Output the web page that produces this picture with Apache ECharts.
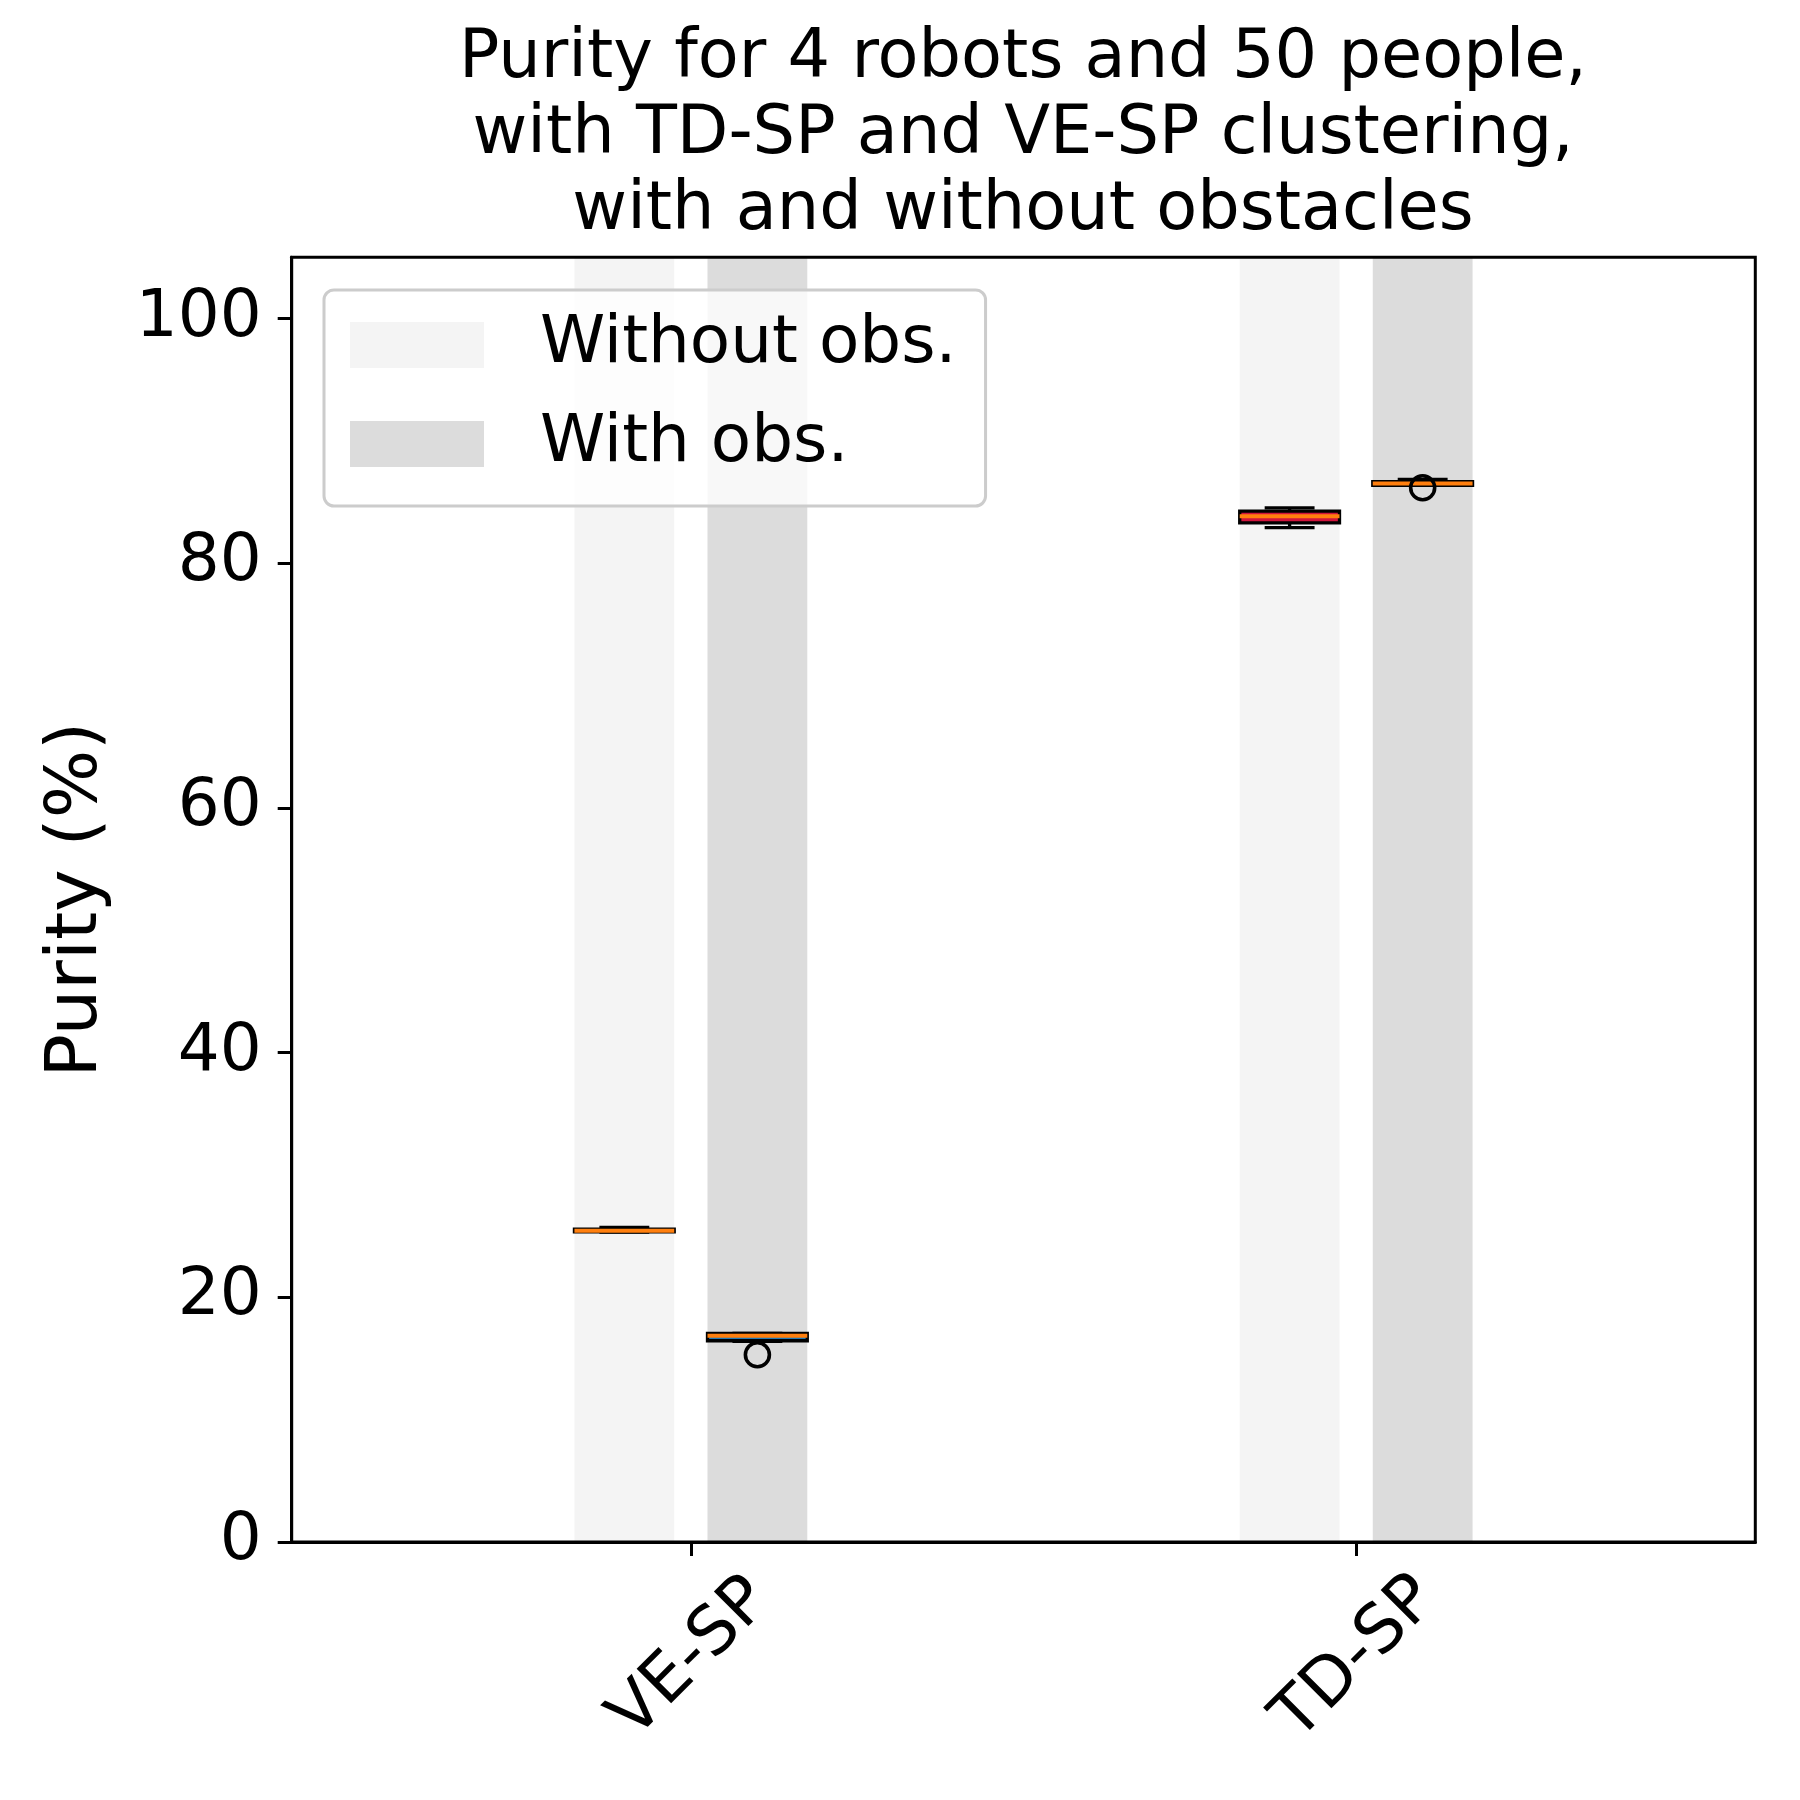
<!DOCTYPE html>
<html>
<head>
<meta charset="utf-8">
<script src="https://cdn.jsdelivr.net/npm/echarts@6/dist/echarts.min.js"></script>
<style>
html,body{margin:0;padding:0;background:#fff;}
#chart{width:1800px;height:1800px;}
</style>
</head>
<body>
<div id="chart"></div>
<script>
var categories = ['VE-SP', 'TD-SP'];
var groupNames = ['Without obs.', 'With obs.'];
// [min, q1, median, q3, max] for each category
var withoutStats = [[25.33, 25.35, 25.44, 25.56, 25.72], [82.91, 83.30, 83.84, 84.25, 84.52]];
var withStats = [[16.40, 16.45, 16.85, 17.05, 17.05], [86.37, 86.37, 86.52, 86.67, 86.84]];
var withoutOutliers = [[], []];
var withOutliers = [[15.31], [86.16]];
var yTicks = [0, 20, 40, 60, 80, 100];

var BOX_W = 0.15;
var OFFSETS = [-0.1, 0.1];
var BAND_COLORS = ['#f4f4f4', '#dcdcdc'];
var FILLS = [['#1f77b4', '#d0143c'], ['#1f77b4', '#ff7f0e']];
var Y_MAX = 105;
var FONT = 'DejaVu Sans';

function posOf(cat, g) { return cat + 1 + OFFSETS[g]; }

function bandItem(params, api) {
  var x = api.value(0);
  var p0 = api.coord([x - BOX_W / 2, Y_MAX]);
  var p1 = api.coord([x + BOX_W / 2, 0]);
  return {
    type: 'rect',
    shape: { x: p0[0], y: p0[1], width: p1[0] - p0[0], height: p1[1] - p0[1] },
    style: { fill: api.visual('color') }
  };
}

function makeBoxItem(fills) {
  return function (params, api) {
    var x = api.value(0), lo = api.value(1), q1 = api.value(2), med = api.value(3), q3 = api.value(4), hi = api.value(5);
    var h = BOX_W / 2, c = BOX_W / 4;
    var tl = api.coord([x - h, q3]), br = api.coord([x + h, q1]);
    var blk = { stroke: '#000', lineWidth: 3.3 };
    function seg(a, b, style) {
      var p = api.coord(a), q = api.coord(b);
      return { type: 'line', shape: { x1: p[0], y1: p[1], x2: q[0], y2: q[1] }, style: style };
    }
    return {
      type: 'group',
      children: [
        { type: 'rect', shape: { x: tl[0], y: tl[1], width: br[0] - tl[0], height: br[1] - tl[1] },
          style: { fill: fills[params.dataIndex], stroke: '#000', lineWidth: 3.3 } },
        seg([x, q3], [x, hi], blk),
        seg([x, lo], [x, q1], blk),
        seg([x - c, hi], [x + c, hi], blk),
        seg([x - c, lo], [x + c, lo], blk),
        seg([x - h, med], [x + h, med], { stroke: '#ff7f0e', lineWidth: 4 })
      ]
    };
  };
}

var allStats = [withoutStats, withStats];
var allOutliers = [withoutOutliers, withOutliers];
var series = [];

groupNames.forEach(function (name, g) {
  series.push({
    name: name,
    type: 'custom',
    renderItem: bandItem,
    itemStyle: { color: BAND_COLORS[g] },
    data: categories.map(function (c, i) { return [posOf(i, g)]; }),
    z: 1,
    silent: true
  });
});

groupNames.forEach(function (name, g) {
  series.push({
    name: name + ' box',
    type: 'custom',
    renderItem: makeBoxItem(FILLS[g]),
    data: allStats[g].map(function (s, i) { return [posOf(i, g)].concat(s); }),
    z: 3,
    silent: true
  });
  var pts = [];
  allOutliers[g].forEach(function (list, i) {
    list.forEach(function (v) { pts.push([posOf(i, g), v]); });
  });
  series.push({
    name: name + ' outliers',
    type: 'scatter',
    symbol: 'circle',
    symbolSize: 24,
    itemStyle: { color: 'rgba(0,0,0,0)', borderColor: '#000', borderWidth: 3.6, opacity: 1 },
    data: pts,
    z: 4,
    silent: true
  });
});

var chart = echarts.init(document.getElementById('chart'));
chart.setOption({
  animation: false,
  backgroundColor: '#fff',
  textStyle: { fontFamily: FONT },
  title: {
    text: 'Purity for 4 robots and 50 people,\nwith TD-SP and VE-SP clustering,\nwith and without obstacles',
    left: 1023,
    top: 22,
    textAlign: 'center',
    padding: 0,
    textStyle: { fontFamily: FONT, fontSize: 67, fontWeight: 'normal', color: '#000', lineHeight: 76 }
  },
  legend: {
    data: groupNames.map(function (n, g) { return { name: n, itemStyle: { color: BAND_COLORS[g] } }; }),
    orient: 'vertical',
    left: 324,
    top: 290,
    icon: 'rect',
    itemWidth: 134,
    itemHeight: 46,
    itemGap: 33,
    padding: [22, 29, 29, 26],
    selectedMode: false,
    backgroundColor: 'rgba(255,255,255,0.8)',
    borderColor: '#cccccc',
    borderWidth: 3,
    borderRadius: 10,
    textStyle: { fontFamily: FONT, fontSize: 66, color: '#000', lineHeight: 66, padding: [0, 0, 0, 51] }
  },
  grid: {
    left: 291.7,
    right: 44.7,
    top: 257.3,
    bottom: 258,
    show: true,
    z: 5,
    backgroundColor: 'rgba(0,0,0,0)',
    borderColor: '#000',
    borderWidth: 3
  },
  xAxis: {
    type: 'value',
    min: 0.4,
    max: 2.6,
    splitLine: { show: false },
    axisLine: { show: true, lineStyle: { color: '#000', width: 3 } },
    axisTick: { show: true, length: 14, lineStyle: { color: '#000', width: 3 }, customValues: [1, 2] },
    axisLabel: {
      customValues: [1, 2],
      formatter: function (v) { return categories[Math.round(v) - 1]; },
      rotate: 45,
      align: 'center',
      verticalAlign: 'middle',
      margin: 117,
      fontFamily: FONT,
      fontSize: 67,
      color: '#000'
    },
    z: 6
  },
  yAxis: {
    type: 'value',
    min: 0,
    max: Y_MAX,
    name: 'Purity (%)',
    nameLocation: 'middle',
    nameRotate: 90,
    nameGap: 178,
    nameTextStyle: { fontFamily: FONT, fontSize: 72, color: '#000' },
    splitLine: { show: false },
    axisLine: { show: true, lineStyle: { color: '#000', width: 3 } },
    axisTick: { show: true, length: 14, lineStyle: { color: '#000', width: 3 }, customValues: yTicks },
    axisLabel: { customValues: yTicks, margin: 30, fontFamily: FONT, fontSize: 66, color: '#000' },
    z: 6
  },
  series: series
});
</script>
</body>
</html>
